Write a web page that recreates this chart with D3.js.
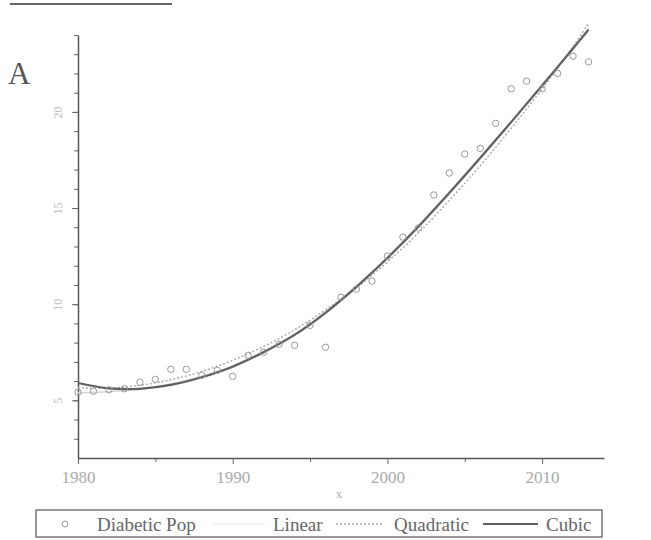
<!DOCTYPE html>
<html>
<head>
<meta charset="utf-8">
<script src="https://cdn.jsdelivr.net/npm/d3@7"></script>
<style>
  body { margin: 0; background: #fff; }
  text { font-family: "Liberation Serif", "DejaVu Serif", serif; }
</style>
</head>
<body>
<div id="chart"></div>
<script>
// observed values, one per year
var years = d3.range(1980, 2014);
var diabeticPop = [5.42, 5.47, 5.55, 5.6, 5.94, 6.09, 6.61, 6.61, 6.3, 6.56,
                   6.25, 7.34, 7.5, 7.92, 7.86, 8.9, 7.76, 10.36, 10.78, 11.2,
                   12.5, 13.49, 13.96, 15.68, 16.82, 17.81, 18.1, 19.4, 21.2, 21.6,
                   21.2, 22.0, 22.9, 22.6];

// fitted curves
var fitYears = [1980, 1982, 1984, 1986, 1988, 1990, 1992, 1994, 1996, 1998,
                2000, 2002, 2004, 2006, 2008, 2010, 2012, 2013];
var linearFit = [5.4, 5.45, 5.6, 5.85, 6.25, 6.8, 7.55, 8.45, 9.6, 10.95,
                 12.45, 14.1, 15.85, 17.65, 19.5, 21.4, 23.35, 24.35];
var quadraticFit = [5.65, 5.64, 5.78, 6.07, 6.5, 7.08, 7.8, 8.67, 9.7, 10.85,
                    12.2, 13.7, 15.4, 17.2, 19.15, 21.2, 23.4, 24.6];
var cubicFit = [5.9, 5.62, 5.6, 5.8, 6.2, 6.75, 7.5, 8.4, 9.55, 10.9,
                12.4, 14.03, 15.78, 17.6, 19.47, 21.37, 23.3, 24.27];

var xTicks = [1980, 1990, 2000, 2010];
var xMinor = [1985, 1995, 2005];
var yTicks = [5, 10, 15, 20];
var yMinor = d3.range(3, 25);

window.onload = function() {
  var width = 651;
  var height = 540;

  var svg = d3.select("#chart")
              .append("svg")
              .attr("width", width)
              .attr("height", height);

  // scan edge at the top of the page
  svg.append("line")
     .attr("x1", 10).attr("x2", 172)
     .attr("y1", 4).attr("y2", 4)
     .attr("stroke", "#666")
     .attr("stroke-width", 2);

  // panel letter
  svg.append("text")
     .attr("x", 8).attr("y", 84)
     .attr("font-size", 31)
     .attr("fill", "#555")
     .text("A");

  var x = d3.scaleLinear().domain([1980, 2014]).range([78, 604]);
  var y = d3.scaleLinear().domain([2, 24]).range([458, 35]);

  // minor ticks
  svg.append("g")
     .attr("transform", "translate(0,458)")
     .call(d3.axisBottom(x).tickValues(xMinor).tickSize(4).tickFormat(""))
     .call(function(g) { g.select(".domain").remove(); });
  svg.append("g")
     .attr("transform", "translate(78,0)")
     .call(d3.axisLeft(y).tickValues(yMinor).tickSize(4).tickFormat(""))
     .call(function(g) { g.select(".domain").remove(); });

  // major axes
  var xAxis = svg.append("g")
     .attr("transform", "translate(0,458)")
     .call(d3.axisBottom(x).tickValues(xTicks).tickSize(6).tickSizeOuter(0).tickFormat(d3.format("d")));
  xAxis.selectAll("text")
       .attr("font-size", 17)
       .attr("fill", "#aaa")
       .attr("dy", "0.95em")
       .style("font-family", "Liberation Serif");

  var yAxis = svg.append("g")
     .attr("transform", "translate(78,0)")
     .call(d3.axisLeft(y).tickValues(yTicks).tickSize(6).tickSizeOuter(0));
  yAxis.selectAll(".tick text")
       .attr("font-size", 12)
       .attr("fill", "#bbb")
       .attr("text-anchor", "middle")
       .attr("x", 0).attr("dy", 0)
       .attr("transform", "translate(-16,0) rotate(-90)")
       .style("font-family", "Liberation Serif");

  svg.selectAll(".domain").attr("stroke", "#555").attr("stroke-width", 1.5);
  svg.selectAll(".tick line").attr("stroke", "#666");

  svg.append("text")
     .attr("x", 339).attr("y", 498)
     .attr("text-anchor", "middle")
     .attr("font-size", 12)
     .attr("fill", "#aaa")
     .text("x");

  // fitted curves
  var line = function(vals) {
    return d3.line()
             .x(function(d, i) { return x(fitYears[i]); })
             .y(function(d) { return y(d); })
             .curve(d3.curveCatmullRom)(vals);
  };

  svg.append("path")
     .attr("d", line(linearFit))
     .attr("fill", "none")
     .attr("stroke", "#d4d4d4")
     .attr("stroke-width", 1.5);
  svg.append("path")
     .attr("d", line(quadraticFit))
     .attr("fill", "none")
     .attr("stroke", "#a8a8a8")
     .attr("stroke-width", 1.4)
     .attr("stroke-dasharray", "2,2");
  svg.append("path")
     .attr("d", line(cubicFit))
     .attr("fill", "none")
     .attr("stroke", "#606060")
     .attr("stroke-width", 2.2);

  // data points
  svg.append("g")
     .selectAll("circle")
     .data(diabeticPop)
     .enter()
     .append("circle")
     .attr("cx", function(d, i) { return x(years[i]); })
     .attr("cy", function(d) { return y(d); })
     .attr("r", 3.2)
     .attr("fill", "none")
     .attr("stroke", "#999")
     .attr("stroke-width", 1);

  // legend
  var leg = svg.append("g");
  leg.append("rect")
     .attr("x", 36).attr("y", 510)
     .attr("width", 566).attr("height", 27)
     .attr("fill", "none")
     .attr("stroke", "#555")
     .attr("stroke-width", 1.2);
  leg.append("circle")
     .attr("cx", 65).attr("cy", 524).attr("r", 3)
     .attr("fill", "none").attr("stroke", "#999");

  var legText = [["Diabetic Pop", 97], ["Linear", 273], ["Quadratic", 394], ["Cubic", 546]];
  leg.selectAll("text.lab")
     .data(legText)
     .enter()
     .append("text")
     .attr("class", "lab")
     .attr("x", function(d) { return d[1]; })
     .attr("y", 531)
     .attr("font-size", 19)
     .attr("fill", "#666")
     .text(function(d) { return d[0]; });

  leg.append("line")
     .attr("x1", 213).attr("x2", 265).attr("y1", 524).attr("y2", 524)
     .attr("stroke", "#ececec").attr("stroke-width", 1.5);
  leg.append("line")
     .attr("x1", 336).attr("x2", 384).attr("y1", 524).attr("y2", 524)
     .attr("stroke", "#a8a8a8").attr("stroke-width", 1.4)
     .attr("stroke-dasharray", "2,2");
  leg.append("line")
     .attr("x1", 483).attr("x2", 538).attr("y1", 524).attr("y2", 524)
     .attr("stroke", "#606060").attr("stroke-width", 2.2);
};
</script>
</body>
</html>
